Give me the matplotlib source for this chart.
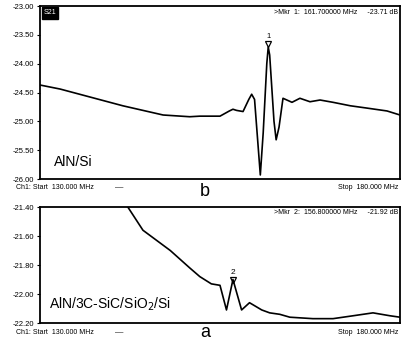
import numpy as np
import matplotlib.pyplot as plt

plt.rcParams['font.family'] = ['Liberation Sans', 'DejaVu Sans']

# panel b: AlN/Si
freq_b = [130.0, 132.8, 141.5, 147.1, 150.8, 152.2, 155.0, 156.3, 156.8, 157.3, 158.2,
          159.0, 159.4, 159.8, 160.6, 161.0, 161.5, 161.7, 161.9, 162.5, 162.8,
          163.2, 163.75, 165.0, 166.1, 167.5, 168.9, 170.7, 173.1, 175.4, 178.2, 180.0]
db_b = [-24.37, -24.44, -24.73, -24.89, -24.92, -24.91, -24.91, -24.82, -24.79, -24.81, -24.83,
        -24.62, -24.53, -24.62, -25.93, -25.2, -24.0, -23.71, -23.85, -25.0, -25.32,
        -25.1, -24.60, -24.67, -24.60, -24.66, -24.63, -24.67, -24.73, -24.77, -24.82, -24.89]

# panel a: AlN/3C-SiC/SiO2/Si
freq_a = [130.0, 142.2, 144.3, 148.1, 150.8, 152.2, 153.8, 155.0, 155.9, 156.8,
          158.0, 159.1, 160.8, 161.9, 163.3, 164.7, 167.9, 170.7, 173.5, 176.25,
          178.6, 180.0]
db_a = [-20.90, -21.40, -21.56, -21.70, -21.82, -21.88, -21.93, -21.94, -22.11, -21.90,
        -22.11, -22.06, -22.11, -22.13, -22.14, -22.16, -22.17, -22.17, -22.15, -22.13,
        -22.15, -22.16]

ticks_b = [-23.0, -23.5, -24.0, -24.5, -25.0, -25.5, -26.0]
ticks_a = [-21.4, -21.6, -21.8, -22.0, -22.2]

mk1 = (161.7, -23.71)
mk2 = (156.8, -21.92)

fig = plt.figure(figsize=(4.02, 3.40), dpi=100)
ax1 = fig.add_axes([0.0995, 0.4735, 0.8955, 0.5088])
ax2 = fig.add_axes([0.0995, 0.050, 0.8955, 0.341])


def style(ax, ticks):
    ax.set_xlim(130, 180)
    ax.set_ylim(ticks[-1], ticks[0])
    ax.set_yticks(ticks)
    ax.set_yticklabels(['%.2f' % t for t in ticks], fontsize=5.5)
    ax.set_xticks([])
    ax.tick_params(axis='y', length=2, width=0.8, pad=2)
    for s in ax.spines.values():
        s.set_linewidth(1.3)


style(ax1, ticks_b)
style(ax2, ticks_a)

ax1.plot(freq_b, db_b, color='black', lw=1.2, solid_joinstyle='round')
ax2.plot(freq_a, db_a, color='black', lw=1.2, solid_joinstyle='round')

# markers
ax1.plot(mk1[0], mk1[1] + 0.05, marker='v', ms=5, mfc='none', mec='black', mew=0.9)
ax1.text(mk1[0], mk1[1] + 0.12, '1', fontsize=5.5, ha='center', va='bottom')
ax2.plot(mk2[0], mk2[1] + 0.02, marker='v', ms=5, mfc='none', mec='black', mew=0.9)
ax2.text(mk2[0], mk2[1] + 0.045, '2', fontsize=6, ha='center', va='bottom')

# marker readouts
ax1.text(0.995, 0.985, '>Mkr  1:  161.700000 MHz     -23.71 dB', transform=ax1.transAxes,
         fontsize=5, ha='right', va='top')
ax2.text(0.995, 0.98, '>Mkr  2:  156.800000 MHz     -21.92 dB', transform=ax2.transAxes,
         fontsize=5, ha='right', va='top')
ax1.text(0.01, 0.98, 'S21', transform=ax1.transAxes, fontsize=5, color='white',
         ha='left', va='top', bbox=dict(facecolor='black', edgecolor='black', pad=1.5))

# sample labels
ax1.text(0.04, 0.06, 'AlN/Si', transform=ax1.transAxes, fontsize=10, ha='left', va='bottom')
ax2.text(0.025, 0.09, 'AlN/3C-SiC/SiO$_2$/Si', transform=ax2.transAxes, fontsize=10,
         ha='left', va='bottom')

# start / stop footers
for y, yl, lab in [(0.449, 0.425, 'b'), (0.022, 0.008, 'a')]:
    fig.text(0.04, y, 'Ch1: Start  130.000 MHz', fontsize=5, ha='left', va='center')
    fig.text(0.285, y, '\u2014', fontsize=6, ha='left', va='center')
    fig.text(0.99, y, 'Stop  180.000 MHz', fontsize=5, ha='right', va='center')
    fig.text(0.51, yl, lab, fontsize=13, ha='center', va='baseline')

fig.savefig('out.png', dpi=100)
